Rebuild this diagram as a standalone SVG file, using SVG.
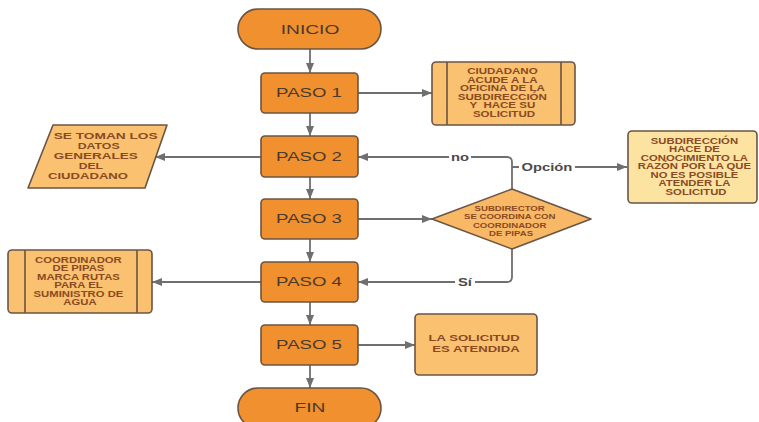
<svg xmlns="http://www.w3.org/2000/svg" width="759" height="422" viewBox="0 0 759 422">
  <style>
    .bg { fill: #ffffff; }
    .step { fill: #F0902F; stroke: #6b5444; stroke-width: 1.6; }
    .note { fill: #F9C170; stroke: #6b5444; stroke-width: 1.6; }
    .pale { fill: #FCE3A2; stroke: #6b5444; stroke-width: 1.6; }
    .dec { fill: #F8B866; stroke: #6b5444; stroke-width: 1.6; }
    .bar { stroke: #6b5444; stroke-width: 1.6; fill: none; }
    .conn { fill: none; stroke: #6f6f6f; stroke-width: 1.8; }
    .big { font-family: "Liberation Sans", Arial, sans-serif; font-size: 12px; fill: #4b3a2c; text-anchor: middle; }
    .small { font-family: "Liberation Sans", Arial, sans-serif; font-size: 8.5px; font-weight: bold; fill: #8a4a22; text-anchor: middle; }
    .lbl { font-family: "Liberation Sans", Arial, sans-serif; font-size: 11px; font-weight: bold; fill: #4a4a4a; text-anchor: middle; }
  </style>
  <defs>
    <marker id="arrow" markerUnits="userSpaceOnUse" markerWidth="11" markerHeight="9" refX="10" refY="4" orient="auto">
      <path d="M0,0 L10,4 L0,8 z" fill="#6f6f6f"/>
    </marker>
  </defs>
  <rect class="bg" x="0" y="0" width="759" height="422"/>

  <g id="connectors">
    <path class="conn" d="M310,49 V73" marker-end="url(#arrow)"/>
    <path class="conn" d="M358,93 H432" marker-end="url(#arrow)"/>
    <path class="conn" d="M310,113 V136" marker-end="url(#arrow)"/>
    <path class="conn" d="M261,157 H155" marker-end="url(#arrow)"/>
    <path class="conn" d="M310,177 V199" marker-end="url(#arrow)"/>
    <path class="conn" d="M358,219 H432" marker-end="url(#arrow)"/>
    <path class="conn" d="M512,189 V162 Q512,157 507,157 H358" marker-end="url(#arrow)"/>
    <path class="conn" d="M512,167 H627" marker-end="url(#arrow)"/>
    <path class="conn" d="M512,249 V277 Q512,282 507,282 H358" marker-end="url(#arrow)"/>
    <path class="conn" d="M310,239 V262" marker-end="url(#arrow)"/>
    <path class="conn" d="M261,282 H152" marker-end="url(#arrow)"/>
    <path class="conn" d="M310,302 V325" marker-end="url(#arrow)"/>
    <path class="conn" d="M358,345 H415" marker-end="url(#arrow)"/>
    <path class="conn" d="M310,365 V388" marker-end="url(#arrow)"/>
    <!-- branch labels -->
    <rect x="449" y="151" width="22" height="12" fill="#ffffff"/>
    <text class="lbl" transform="translate(460,161) scale(1.34,1)">no</text>
    <rect x="519" y="160" width="56" height="13" fill="#ffffff"/>
    <text class="lbl" transform="translate(547,171) scale(1.34,1)">Opción</text>
    <rect x="455" y="276" width="20" height="12" fill="#ffffff"/>
    <text class="lbl" transform="translate(465,286) scale(1.34,1)">Sí</text>
  </g>

  <g id="inicio">
    <rect class="step" x="238" y="9" width="143" height="40" rx="20"/>
    <text class="big" transform="translate(310,34) scale(1.6,1)">INICIO</text>
  </g>

  <g id="paso1">
    <rect class="step" x="261" y="73" width="97" height="40" rx="4"/>
    <text class="big" transform="translate(309,97) scale(1.55,1)">PASO 1</text>
  </g>

  <g id="acude">
    <rect class="note" x="432" y="62" width="143" height="63" rx="4"/>
    <line class="bar" x1="447" y1="62" x2="447" y2="125"/>
    <line class="bar" x1="561" y1="62" x2="561" y2="125"/>
    <text class="small" transform="translate(504,74) scale(1.36,1)">
      <tspan x="0" y="0">CIUDADANO</tspan>
      <tspan x="0" dy="8.6">ACUDE A LA</tspan>
      <tspan x="0" dy="8.6">OFICINA DE LA</tspan>
      <tspan x="0" dy="8.6">SUBDIRECCIÓN</tspan>
      <tspan x="0" dy="8.6" xml:space="preserve">Y  HACE SU</tspan>
      <tspan x="0" dy="8.6">SOLICITUD</tspan>
    </text>
  </g>

  <g id="paso2">
    <rect class="step" x="261" y="136" width="97" height="41" rx="4"/>
    <text class="big" transform="translate(309,161) scale(1.55,1)">PASO 2</text>
  </g>

  <g id="datos">
    <polygon class="note" points="53,125 167,125 145,188 28,188" stroke-linejoin="round"/>
    <text class="small" style="font-size:9.5px" transform="translate(0,138.5) scale(1,1)">
      <tspan x="107" y="0" textLength="104" lengthAdjust="spacingAndGlyphs">SE TOMAN LOS</tspan>
      <tspan x="100" y="10" textLength="42" lengthAdjust="spacingAndGlyphs">DATOS</tspan>
      <tspan x="97" y="20" textLength="84" lengthAdjust="spacingAndGlyphs">GENERALES</tspan>
      <tspan x="92" y="30" textLength="24" lengthAdjust="spacingAndGlyphs">DEL</tspan>
      <tspan x="88" y="40" textLength="80" lengthAdjust="spacingAndGlyphs">CIUDADANO</tspan>
    </text>
  </g>

  <g id="razon">
    <rect class="pale" x="628" y="131" width="129" height="72" rx="4"/>
    <text class="small" transform="translate(696,144) scale(1.33,1)">
      <tspan x="0" y="0">SUBDIRECCIÓN</tspan>
      <tspan x="0" dy="8.5">HACE DE</tspan>
      <tspan x="0" dy="8.5">CONOCIMIENTO LA</tspan>
      <tspan x="0" dy="8.5">RAZÓN POR LA QUE</tspan>
      <tspan x="0" dy="8.5">NO ES POSIBLE</tspan>
      <tspan x="0" dy="8.5">ATENDER LA</tspan>
      <tspan x="0" dy="8.5">SOLICITUD</tspan>
    </text>
  </g>

  <g id="paso3">
    <rect class="step" x="261" y="199" width="97" height="40" rx="4"/>
    <text class="big" transform="translate(309,223) scale(1.55,1)">PASO 3</text>
  </g>

  <g id="subdirector">
    <polygon class="dec" points="432,219 512,189 591,219 512,249" stroke-linejoin="round"/>
    <text class="small" style="font-size:8px" transform="translate(511,211) scale(1.2,1)">
      <tspan x="0" y="0">SUBDIRECTOR</tspan>
      <tspan x="0" dy="8.4">SE COORDINA CON</tspan>
      <tspan x="0" dy="8.4">COORDINADOR</tspan>
      <tspan x="0" dy="8.4">DE PIPAS</tspan>
    </text>
  </g>

  <g id="paso4">
    <rect class="step" x="261" y="262" width="97" height="40" rx="4"/>
    <text class="big" transform="translate(309,286) scale(1.55,1)">PASO 4</text>
  </g>

  <g id="rutas">
    <rect class="note" x="8" y="250" width="144" height="63" rx="4"/>
    <line class="bar" x1="25" y1="250" x2="25" y2="313"/>
    <line class="bar" x1="137" y1="250" x2="137" y2="313"/>
    <text class="small" transform="translate(80,263) scale(1.33,1)">
      <tspan x="0" y="0">COORDINADOR</tspan>
      <tspan x="0" dy="8.4">DE PIPAS</tspan>
      <tspan x="0" dy="8.4">MARCA RUTAS</tspan>
      <tspan x="0" dy="8.4">PARA EL</tspan>
      <tspan x="0" dy="8.4">SUMINISTRO DE</tspan>
      <tspan x="0" dy="8.4">AGUA</tspan>
    </text>
  </g>

  <g id="paso5">
    <rect class="step" x="261" y="325" width="97" height="40" rx="4"/>
    <text class="big" transform="translate(309,349) scale(1.55,1)">PASO 5</text>
  </g>

  <g id="atendida">
    <rect class="note" x="415" y="314" width="122" height="61" rx="4"/>
    <text class="small" style="font-size:9.5px" transform="translate(476,340.5) scale(1.38,1)">
      <tspan x="0" y="0">LA SOLICITUD</tspan>
      <tspan x="0" dy="12">ES ATENDIDA</tspan>
    </text>
  </g>

  <g id="fin">
    <rect class="step" x="238" y="388" width="143" height="40" rx="20"/>
    <text class="big" transform="translate(310,412) scale(1.6,1)">FIN</text>
  </g>
</svg>
